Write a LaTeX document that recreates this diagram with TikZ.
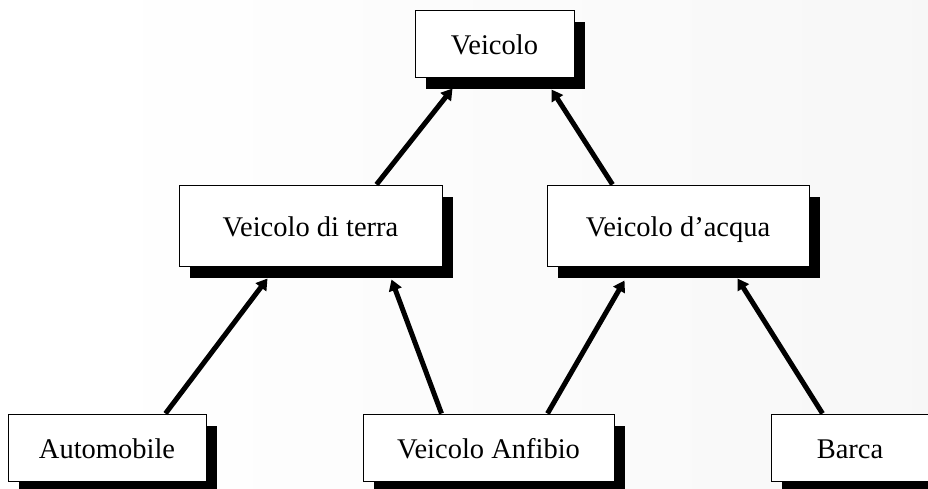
\documentclass[tikz,border=0pt]{standalone}
\usepackage{fontspec}
\setmainfont{Liberation Serif}
\usetikzlibrary{arrows.meta,calc,shadows}
\tikzset{
  klass/.style={draw=black, line width=1pt, fill=white, inner sep=0pt,
    font=\fontsize{28.5}{33}\selectfont, text height=24pt, text depth=2pt,
    drop shadow={shadow xshift=11pt, shadow yshift=-12pt, fill=black, opacity=1}},
  isa/.style={line width=5pt, -{Triangle[length=11pt,width=13pt]}}
}
\begin{document}
\begin{tikzpicture}[x=1pt,y=-1pt]
  % page and faint background tint
  \useasboundingbox (0,0) rectangle (928,488);
  \clip (0,0) rectangle (928,488);
  \fill[white] (0,0) rectangle (88,488);
  \shade[left color=white, right color=black!3] (88,0) rectangle (928,488);

  % class hierarchy
  \node[klass, minimum width=159pt, minimum height=67pt] (v) at (494.5,43.5) {Veicolo};
  \node[klass, minimum width=263pt, minimum height=81pt] (terra) at (310.5,225.5) {Veicolo di terra};
  \node[klass, minimum width=262pt, minimum height=81pt] (acqua) at (678,225.5) {Veicolo d’acqua};
  \node[klass, minimum width=198pt, minimum height=67pt] (auto) at (107,447.5) {Automobile};
  \node[klass, minimum width=251pt, minimum height=67pt] (anfibio) at (488.5,447.5) {Veicolo Anfibio};
  \node[klass, minimum width=158pt, minimum height=67pt] (barca) at (850,447.5) {Barca};

  % inheritance arrows, child to parent
  \draw[isa] ($(terra.north west)+(198,0)$) -- ($(v.south west)+(38,11)$);
  \draw[isa] ($(acqua.north west)+(66,0)$) -- ($(v.south west)+(137,12)$);
  \draw[isa] ($(auto.north west)+(158,0)$) -- ($(terra.south west)+(89,12)$);
  \draw[isa] ($(anfibio.north west)+(79,0)$) -- ($(terra.south west)+(213,13)$);
  \draw[isa] ($(anfibio.north west)+(185,0)$) -- ($(acqua.south west)+(78,14)$);
  \draw[isa] ($(barca.north west)+(52,0)$) -- ($(acqua.south west)+(191,12)$);
\end{tikzpicture}
\end{document}
